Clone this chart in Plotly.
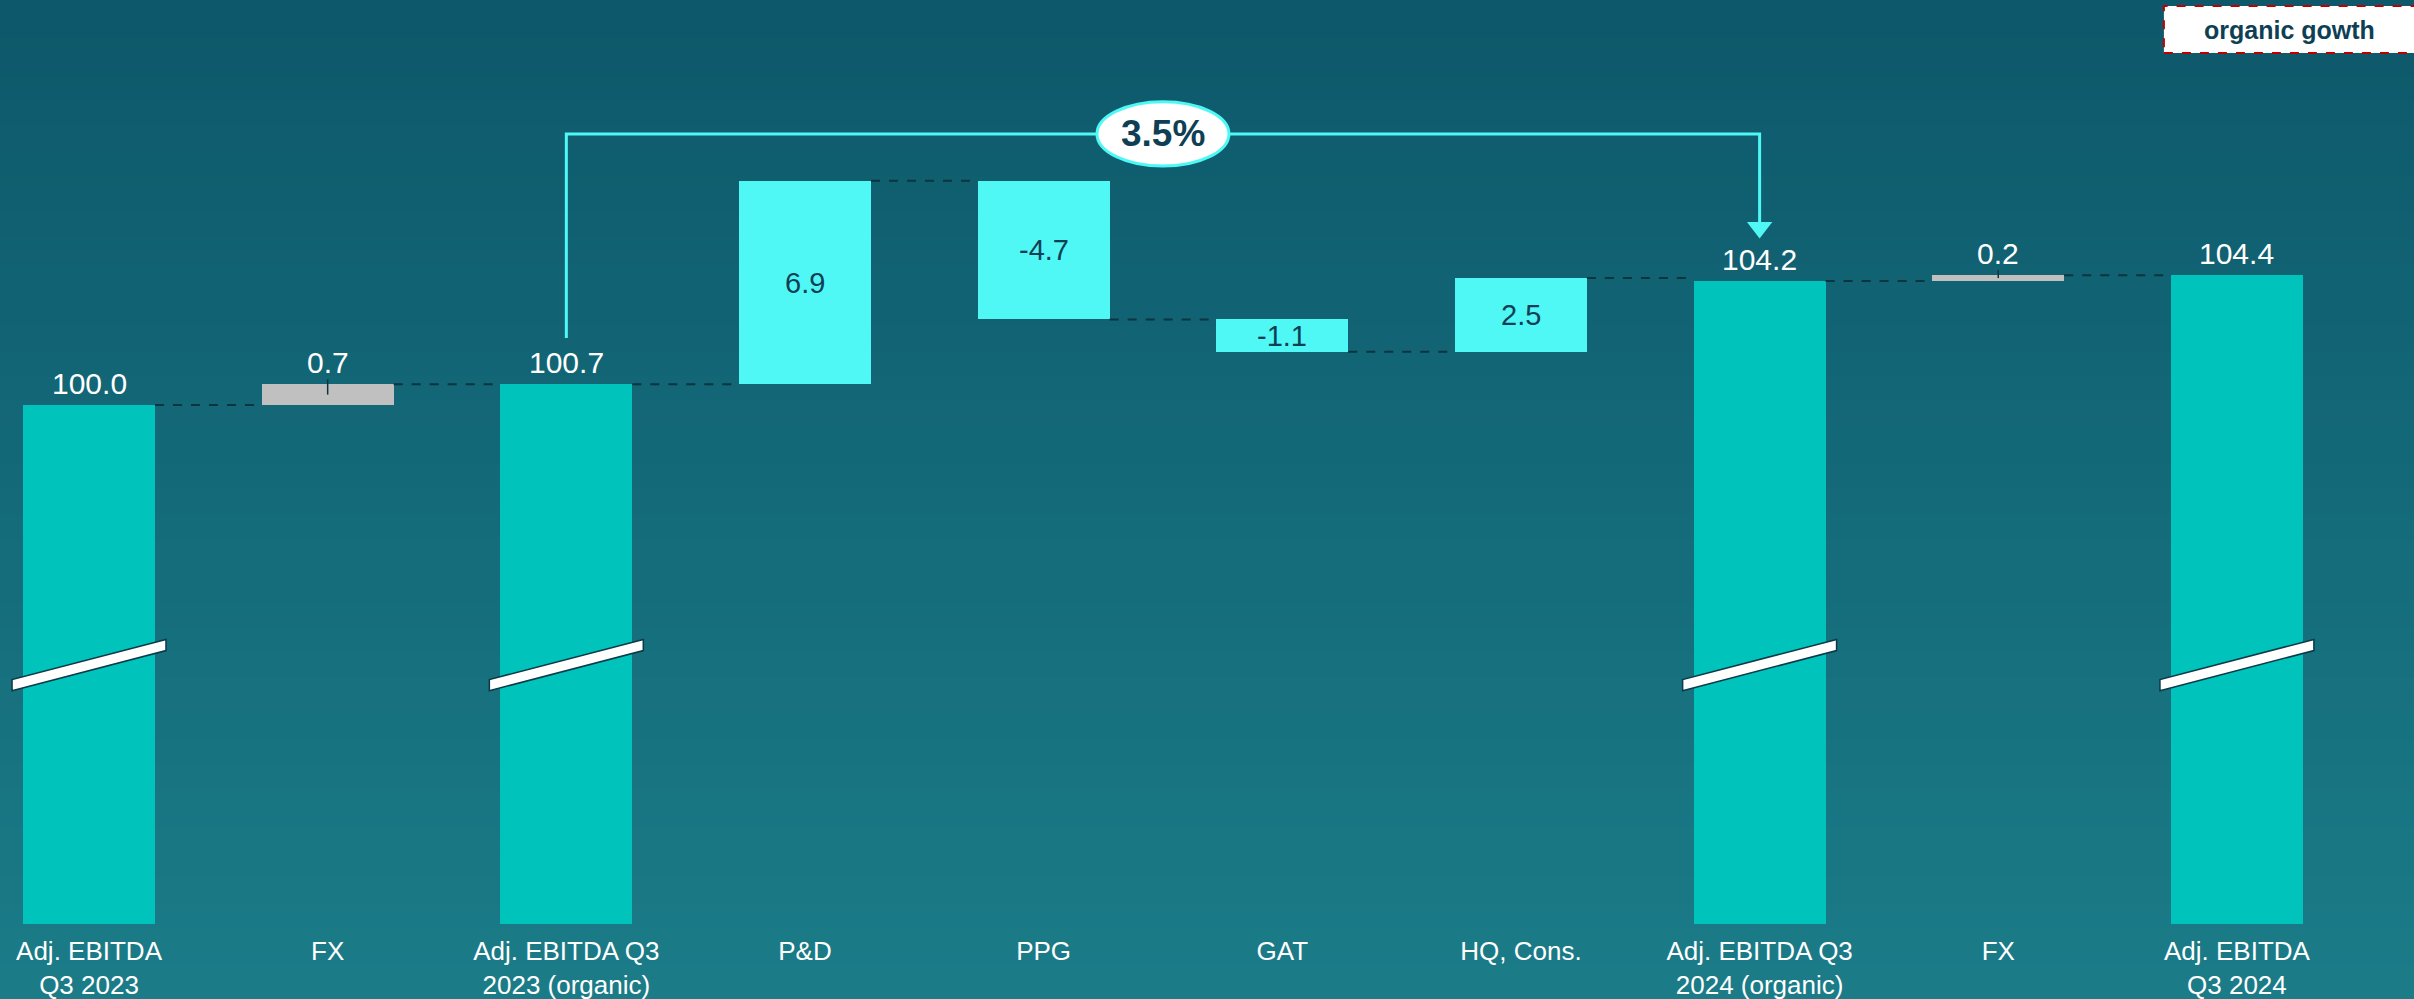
import plotly.graph_objects as go
import numpy as np

# ---------------- data ----------------
categories = [
    "Adj. EBITDA<br>Q3 2023",
    "FX",
    "Adj. EBITDA Q3<br>2023 (organic)",
    "P&D",
    "PPG",
    "GAT",
    "HQ, Cons.",
    "Adj. EBITDA Q3<br>2024 (organic)",
    "FX",
    "Adj. EBITDA<br>Q3 2024",
]
values = [100.0, 0.7, 100.7, 6.9, -4.7, -1.1, 2.5, 104.2, 0.2, 104.4]
measures = ["total", "delta", "total", "delta", "delta", "delta", "delta", "total", "delta", "total"]
bar_kind = ["total", "fx", "total", "segment", "segment", "segment", "segment", "total", "fx", "total"]
growth_from, growth_to = 2, 7
badge_text = "organic gowth"

# ---------------- styling ----------------
FONT = "Liberation Sans, Arial, sans-serif"
COL = {"total": "#00c3bb", "fx": "#c0c0c0", "segment": "#4ff8f5"}
CYAN = "#4ff8f5"
DARK = "#0f3f55"
CONN = "#0a3440"
BAR_W = 0.553
Y_RANGE = [82.4, 113.73]
X_RANGE = [-0.373, 9.742]

idx = list(range(len(values)))
bases, ends = [], []
running = 0.0
for v, m in zip(values, measures):
    if m == "total":
        b, e = 0.0, v
    else:
        b, e = running, running + v
    running = e
    bases.append(b)
    ends.append(e)

fig = go.Figure()

# bars
fig.add_trace(go.Bar(
    x=idx, y=[e - b for b, e in zip(bases, ends)], base=bases, width=BAR_W,
    marker=dict(color=[COL[k] for k in bar_kind], line=dict(width=0)),
    hoverinfo="skip", showlegend=False,
))

# connectors
cx, cy = [], []
for i in range(len(values) - 1):
    cx += [i + BAR_W / 2, i + 1 - BAR_W / 2, None]
    cy += [ends[i], ends[i], None]
fig.add_trace(go.Scatter(x=cx, y=cy, mode="lines", line=dict(color=CONN, width=2, dash="dash"),
                         hoverinfo="skip", showlegend=False))

# small ticks on FX bars
tx, ty = [], []
for i, k in enumerate(bar_kind):
    if k == "fx":
        tx += [i, i, None]
        ty += [max(bases[i], ends[i]) + 0.17, (bases[i] + ends[i]) / 2, None]
fig.add_trace(go.Scatter(x=tx, y=ty, mode="lines", line=dict(color=CONN, width=1.5),
                         hoverinfo="skip", showlegend=False))

# growth bracket
g = (values[growth_to] / values[growth_from] - 1) * 100
y_top = 109.19
bx = [growth_from, growth_from, growth_to, growth_to]
by = [values[growth_from] + 1.57, y_top, y_top, 106.2]
fig.add_trace(go.Scatter(x=bx, y=by, mode="lines", line=dict(color=CYAN, width=3),
                         hoverinfo="skip", showlegend=False))
fig.add_trace(go.Scatter(x=[growth_to], y=[106.02], mode="markers",
                         marker=dict(symbol="triangle-down", size=22, color=CYAN, line=dict(width=0)),
                         hoverinfo="skip", showlegend=False))

annotations = []
# value labels
for i, (v, k) in enumerate(zip(values, bar_kind)):
    txt = f"{v:.1f}"
    if k == "segment":
        annotations.append(dict(x=i, y=(bases[i] + ends[i]) / 2, text=txt, showarrow=False,
                                xanchor="center", yanchor="middle",
                                font=dict(family=FONT, size=29, color=DARK)))
    else:
        annotations.append(dict(x=i, y=max(bases[i], ends[i]), text=txt, showarrow=False,
                                xanchor="center", yanchor="bottom", yshift=3,
                                font=dict(family=FONT, size=30, color="white")))

mid = (growth_from + growth_to) / 2
annotations.append(dict(x=mid, y=y_top, text=f"<b>{g:.1f}%</b>", showarrow=False,
                        xanchor="center", yanchor="middle",
                        font=dict(family=FONT, size=37, color=DARK)))
annotations.append(dict(xref="paper", yref="paper", x=0.9485, y=0.968, text=f"<b>{badge_text}</b>",
                        showarrow=False, xanchor="center", yanchor="middle",
                        font=dict(family=FONT, size=25, color=DARK)))

shapes = []
# gradient background
top_c = np.array([0x0d, 0x58, 0x6a])
bot_c = np.array([0x1b, 0x7c, 0x88])
N = 80
y_lo, y_hi = -0.085, 1.0
for s in range(N):
    t0 = y_lo + (y_hi - y_lo) * s / N
    t1 = y_lo + (y_hi - y_lo) * (s + 1) / N
    f = 1 - (s + 0.5) / N
    c = top_c * (1 - f) + bot_c * f
    col = "rgb(%d,%d,%d)" % tuple(np.round(c).astype(int))
    shapes.append(dict(type="rect", xref="paper", yref="paper", x0=-0.01, x1=1.01,
                       y0=t0, y1=t1 + 0.002, fillcolor=col, line=dict(width=0), layer="below"))

# axis break marks on total bars
for i, k in enumerate(bar_kind):
    if k == "total":
        xl = i - BAR_W / 2 - 0.046
        xr = i + BAR_W / 2 + 0.046
        yl, yr, h = 90.5, 91.86, 0.19
        path = f"M {xl},{yl-h} L {xr},{yr-h} L {xr},{yr+h} L {xl},{yl+h} Z"
        shapes.append(dict(type="path", xref="x", yref="y", path=path, fillcolor="white",
                           line=dict(color="#0b3a48", width=1.5)))

# ellipse for growth
shapes.append(dict(type="circle", xref="x", yref="y", x0=mid - 0.2765, x1=mid + 0.2765,
                   y0=y_top - 1.09, y1=y_top + 1.09, fillcolor="white",
                   line=dict(color=CYAN, width=3)))
# badge box
shapes.append(dict(type="rect", xref="paper", yref="paper", x0=0.8964, x1=1.003,
                   y0=0.9426, y1=0.9935, fillcolor="white",
                   line=dict(color="#c00000", width=2, dash="dash")))

fig.update_layout(
    width=2414, height=999,
    margin=dict(l=0, r=0, t=0, b=75, pad=0),
    paper_bgcolor="#1b7c88", plot_bgcolor="rgba(0,0,0,0)",
    bargap=0, showlegend=False,
    xaxis=dict(range=X_RANGE, tickmode="array", tickvals=idx, ticktext=categories,
               showgrid=False, zeroline=False, showline=False, ticks="",
               ticklabelstandoff=9,
               tickfont=dict(family=FONT, size=26, color="white"), fixedrange=True),
    yaxis=dict(range=Y_RANGE, visible=False, showgrid=False, zeroline=False, fixedrange=True),
    shapes=shapes, annotations=annotations,
)

fig.write_html("out.html",
               config={"displayModeBar": False, "staticPlot": True},
               post_script="document.body.style.margin='0';document.body.style.padding='0';"
                           "document.body.style.overflow='hidden';")
